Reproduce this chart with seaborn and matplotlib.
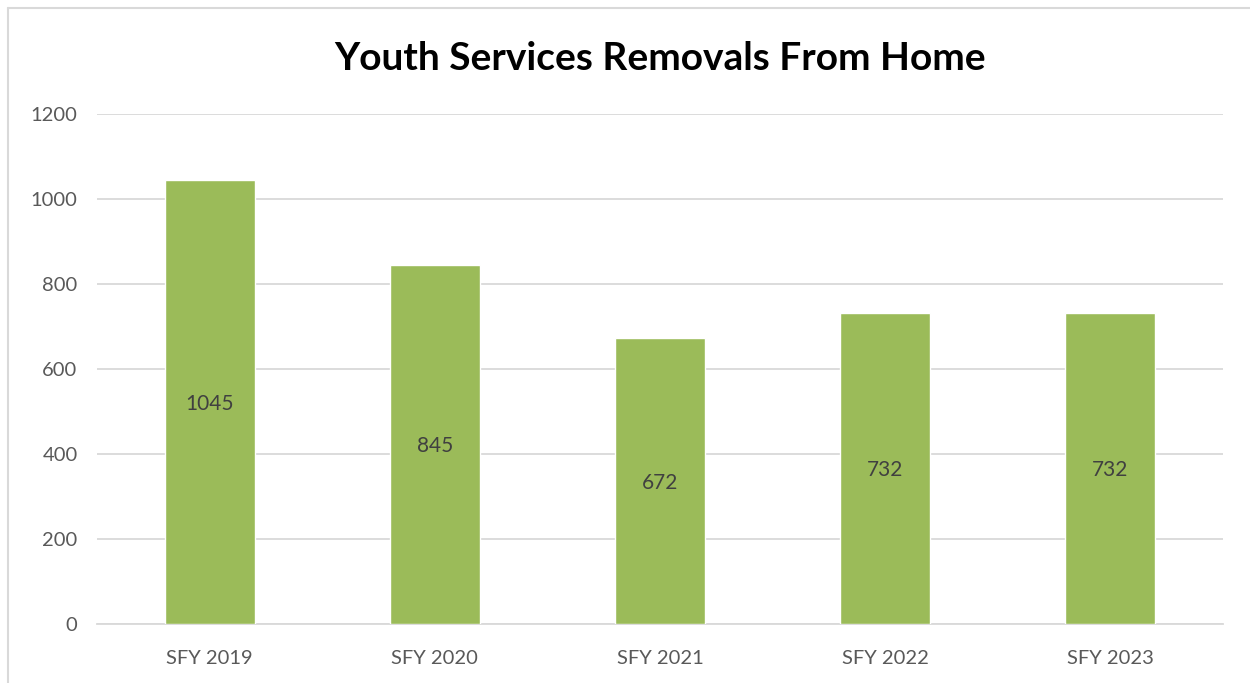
import matplotlib.pyplot as plt
import matplotlib.lines as mlines
import pandas as pd
import seaborn as sns

# ----------------------------
# data
# ----------------------------
years = ["SFY 2019", "SFY 2020", "SFY 2021", "SFY 2022", "SFY 2023"]
removals = [1045, 845, 672, 732, 732]

df = pd.DataFrame({"year": years, "removals": removals})

sns.set_style("white")
plt.rcParams["font.family"] = ["Lato", "DejaVu Sans"]

fig = plt.figure(figsize=(12.5, 6.83), dpi=100)
ax = fig.add_axes([0.0776, 0.0864, 0.9008, 0.7466])

sns.barplot(data=df, x="year", y="removals", color="#9BBB59",
            saturation=1, width=0.4, ax=ax, zorder=3)

# labels centred in each bar
for p, v in zip(ax.patches, removals):
    ax.text(p.get_x() + p.get_width() / 2, v / 2, str(v),
            ha="center", va="center_baseline", fontsize=15, color="#404040", zorder=4)

ax.set_ylim(0, 1200)
ax.set_yticks(range(0, 1201, 200))
ax.yaxis.grid(True, color="#D9D9D9", linewidth=1.3, zorder=0)
ax.set_axisbelow(True)
ax.set_xlabel("")
ax.set_ylabel("")
for s in ["top", "right", "left"]:
    ax.spines[s].set_visible(False)
ax.spines["bottom"].set_color("#D9D9D9")
ax.spines["bottom"].set_linewidth(1.3)
ax.tick_params(axis="both", length=0, labelsize=14.5, labelcolor="#595959")
ax.tick_params(axis="y", pad=14)
ax.tick_params(axis="x", pad=19)

fig.text(0.528, 0.915, "Youth Services Removals From Home", ha="center",
         va="center", fontsize=28, fontweight="bold", color="black")

# chart frame (left and top edges)
fig.add_artist(mlines.Line2D([0.0064, 0.0064], [0.0, 0.988], color="#D9D9D9", lw=1.5))
fig.add_artist(mlines.Line2D([0.0064, 1.0], [0.988, 0.988], color="#D9D9D9", lw=1.5))

plt.savefig("out.png", dpi=100)
plt.close()
